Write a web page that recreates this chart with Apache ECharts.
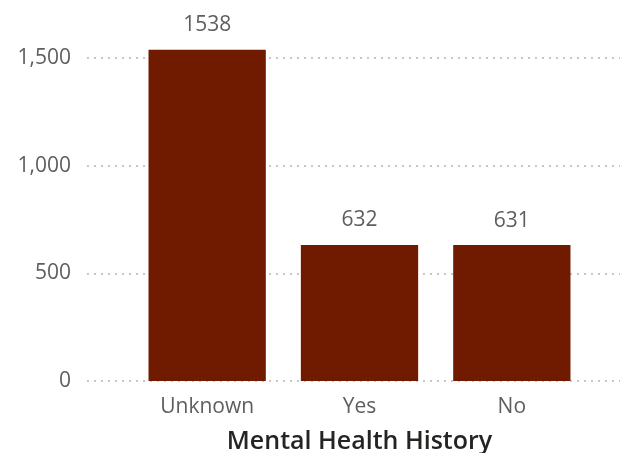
<!DOCTYPE html>
<html><head><meta charset="utf-8">
<script src="https://cdn.jsdelivr.net/npm/echarts@6/dist/echarts.min.js"></script>
<style>html,body{margin:0;padding:0;background:#fff}#c{width:626px;height:453px}</style>
</head><body><div id="c"></div>
<script>
const categories = ["Unknown", "Yes", "No"];
const values = [1538, 632, 631];
const yTicks = [0, 500, 1000, 1500];
const axisTitle = "Mental Health History";

const font = "'Open Sans', 'Noto Sans', sans-serif";
const chart = echarts.init(document.getElementById('c'));
chart.setOption({
  animation: false,
  grid: [
    {left: 87, right: 6, top: 58, bottom: 72, outerBoundsMode: 'none', containLabel: false},
    {left: 131, width: 457, top: 58, bottom: 72, outerBoundsMode: 'none', containLabel: false}
  ],
  xAxis: [
    {gridIndex: 0, type: 'value', show: false},
    {gridIndex: 1, type: 'category', data: categories,
     axisLine: {show: false}, axisTick: {show: false},
     axisLabel: {color: '#605E5C', fontSize: 21, fontFamily: font, margin: 16},
     name: axisTitle, nameLocation: 'middle', nameGap: 48,
     nameTextStyle: {color: '#252423', fontSize: 25, fontWeight: 600, fontFamily: font, verticalAlign: 'top'}}
  ],
  yAxis: [
    {gridIndex: 0, type: 'value', min: yTicks[0], max: yTicks[yTicks.length-1], interval: 500,
     axisLine: {show: false}, axisTick: {show: false},
     axisLabel: {color: '#605E5C', fontSize: 21, fontFamily: font, margin: 16,
       formatter: v => v.toLocaleString('en-US')},
     splitLine: {lineStyle: {color: '#C8C6C4', width: 2, type: [2, 5]}}},
    {gridIndex: 1, type: 'value', min: yTicks[0], max: yTicks[yTicks.length-1], interval: 500, show: false,
     splitLine: {show: false}}
  ],
  series: [{
    type: 'bar', xAxisIndex: 1, yAxisIndex: 1, data: values, clip: false,
    barCategoryGap: '23%',
    itemStyle: {color: '#701A00'},
    label: {show: true, position: 'top', distance: 14, color: '#605E5C', fontSize: 21, fontFamily: font}
  }]
});
</script></body></html>
